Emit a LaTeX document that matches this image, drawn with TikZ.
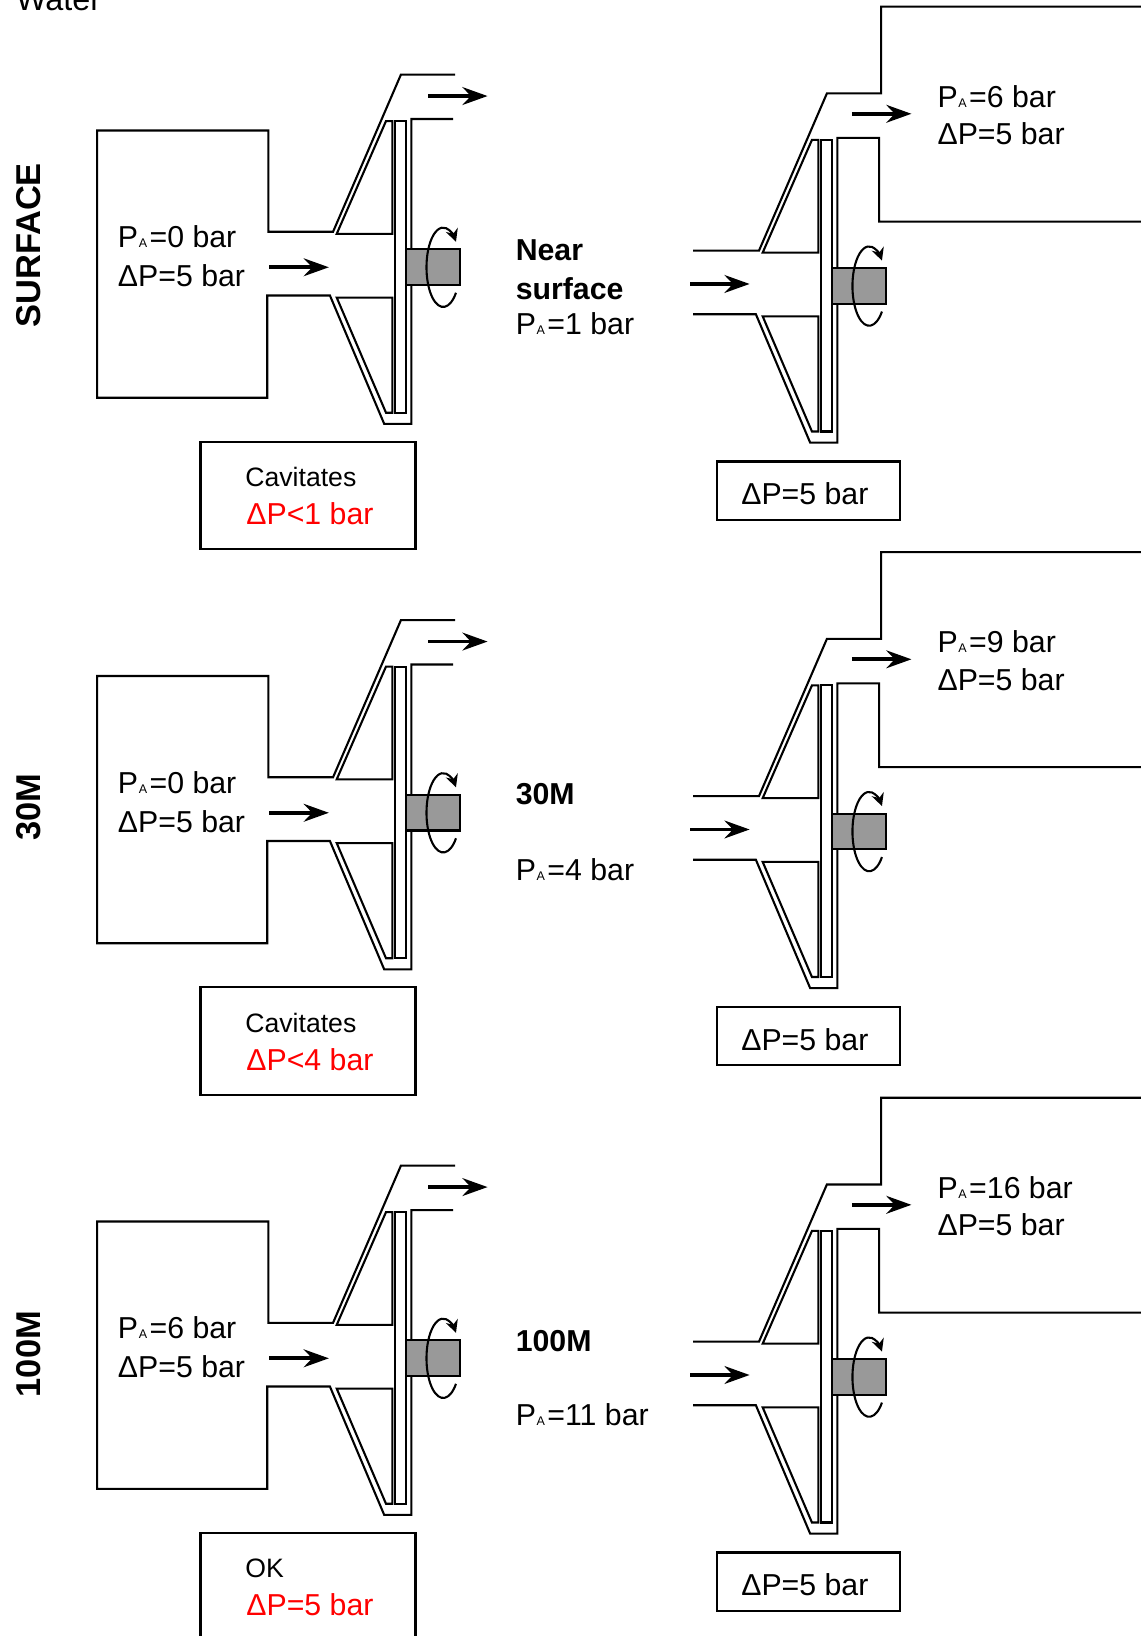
\documentclass[tikz,border=0pt]{standalone}
\usepackage{fontspec}
\setmainfont{Liberation Sans}
\usetikzlibrary{arrows.meta}

\definecolor{shaftgray}{RGB}{153,153,153}
\newcommand{\PA}{P\kern0.3pt{\fontsize{6}{6}\selectfont A}\kern1.2pt}

% impeller, inner casing, shaft and the turning arrow of one pump
\newcommand{\pumpcore}{%
  \draw (322.5,224) -- (369.7,116) -- (375.8,116) -- (375.8,224) -- cycle;
  \draw (322.5,285) -- (375.8,285) -- (375.8,395.3) -- (369.7,395.3) -- cycle;
  \draw (378.4,116) rectangle (388.6,395.3);
  \draw[fill=shaftgray] (388.6,238.8) rectangle (440.6,273);
  \draw[spin] (424.5,256) ++(40:16 and 38) arc[start angle=40, end angle=320, x radius=16, y radius=38];
}

\tikzset{
  flow/.style={line width=1.8pt, -{Stealth[length=12pt, width=8.5pt, inset=4pt]}},
  spin/.style={line width=1pt, -{Stealth[length=6pt, width=6pt]}},
  lbl/.style={anchor=base west, inner sep=0pt, font=\fontsize{14.5}{17}\selectfont},
  small/.style={font=\fontsize{12.75}{15}\selectfont},
  title/.style={lbl, font=\bfseries\fontsize{14.5}{17}\selectfont},
  side/.style={rotate=90, inner sep=0pt, font=\bfseries\fontsize{16.5}{19}\selectfont}
}

\begin{document}
\begin{tikzpicture}[x=0.5pt, y=-0.5pt, line width=1pt]
\useasboundingbox (0,0) rectangle (1092,1567);

\node[lbl, font=\fontsize{15.5}{18}\selectfont] (water) at (14.4,10) {Water};

\foreach \k/\dy/\pin/\pout/\pmid/\note/\limit in {1/0/0/6/1/Cavitates/ΔP<1 bar,2/522.5/0/9/4/Cavitates/ΔP<4 bar,3/1045/6/16/11/OK/ΔP=5 bar}{
  % pump fed from the tank on the left
  \begin{scope}[shift={(0,\dy)}]
    \draw (436,71.5) -- (384,71.5) -- (319,222) -- (257,222) -- (257,125) -- (93,125) -- (93,381) -- (256,381) -- (256,283) -- (316,283) -- (368,406) -- (394,406) -- (394,114) -- (434,114);
    \pumpcore
    \draw[flow] (258,256) -- (315,256);
    \draw[flow] (410,92) -- (467,92);
    \node[lbl] (pin\k) at (112,237.5) {\PA=\pin{} bar};
    \node[lbl] (dpin\k) at (112,274.7) {ΔP=5 bar};
    \draw (192,423) rectangle (398,526);
    \node[lbl, small] (note\k) at (234,466.3) {\note};
    \node[lbl, red] (limit\k) at (235,502.5) {\limit};
    \node[lbl] (pmid\k) at (493,320.5) {\PA=\pmid{} bar};
    \draw (687,442) rectangle (862,498);
    \node[lbl] (dpbox\k) at (709,483.5) {ΔP=5 bar};
    \node[lbl] (pout\k) at (897,102.5) {\PA=\pout{} bar};
    \node[lbl] (dpout\k) at (897,138.5) {ΔP=5 bar};
  \end{scope}
  % pump feeding the tank on the right
  \begin{scope}[shift={(408,\dy+18)}]
    \draw (256,222) -- (319,222) -- (384,71.5) -- (436,71.5) -- (436,-11.6) -- (700,-11.6);
    \draw (256,283) -- (316,283) -- (368,406) -- (394,406) -- (394,114) -- (434,114) -- (434,194.3) -- (700,194.3);
    \pumpcore
    \draw[flow] (253,254) -- (310,254);
    \draw[flow] (408,91) -- (465,91);
  \end{scope}
}

\node[title] (near) at (493,249.5) {Near};
\node[title] (surf) at (493,286.5) {surface};
\node[title] (mid2) at (493,770.5) {30M};
\node[title] (mid3) at (493,1294.5) {100M};

\node[side] (row1) at (27,235) {SURFACE};
\node[side] (row2) at (27,773) {30M};
\node[side] (row3) at (27,1297) {100M};
\end{tikzpicture}
\end{document}
